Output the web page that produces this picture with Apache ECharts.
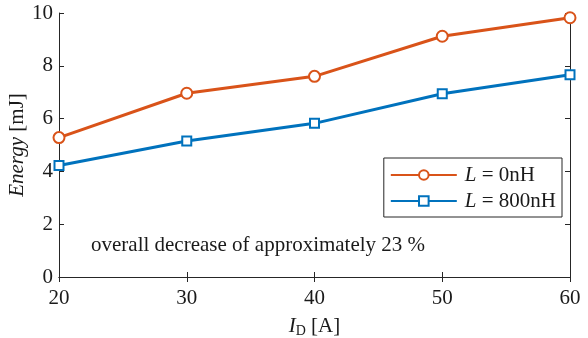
<!DOCTYPE html>
<html><head><meta charset="utf-8">
<script src="https://cdn.jsdelivr.net/npm/echarts@6/dist/echarts.min.js"></script>
<style>html,body{margin:0;padding:0;background:#fff}#c{width:588px;height:338px}</style>
</head><body><div id="c"></div>
<script>
const categories = [20, 30, 40, 50, 60];
const energy0nH = [5.28, 6.96, 7.6, 9.12, 9.82];
const energy800nH = [4.22, 5.15, 5.82, 6.94, 7.66];
const seriesNames = ['L = 0nH', 'L = 800nH'];
const annotation = 'overall decrease of approximately 23 %';

const F = '"Liberation Serif", "Times New Roman", serif';
const FS = 21;
const axisCol = '#262626';
const txtCol = '#1a1a1a';
const chart = echarts.init(document.getElementById('c'));
chart.setOption({
  animation: false,
  grid: {left: 59, top: 13, right: 18, bottom: 61, containLabel: false, outerBoundsMode: 'none'},
  textStyle: {fontFamily: F},
  legend: {
    right: 26, top: 158, orient: 'vertical',
    backgroundColor: '#fff', borderColor: axisCol, borderWidth: 1,
    padding: [6, 6, 5, 6], itemGap: 4, itemWidth: 66, itemHeight: 12,
    formatter: n => '{i|L} = ' + n.split('= ')[1],
    textStyle: {fontFamily: F, fontSize: FS, lineHeight: 22, color: txtCol, padding: [0, 0, 0, 3],
      rich: {i: {fontFamily: F, fontSize: FS, lineHeight: 22, fontStyle: 'italic', color: txtCol}}},
    data: seriesNames
  },
  xAxis: [{
    type: 'value', min: 20, max: 60, interval: 10,
    axisLine: {onZero: false, lineStyle: {color: axisCol, width: 1}},
    axisTick: {inside: true, length: 5, lineStyle: {color: axisCol}},
    axisLabel: {color: txtCol, fontSize: FS, fontFamily: F, margin: 11},
    splitLine: {show: false},
    name: '{i|I}{s|D} [A]', nameLocation: 'middle', nameGap: 38, nameMoveOverlap: false,
    nameTextStyle: {color: txtCol, fontSize: FS, fontFamily: F,
      rich: {i: {fontStyle: 'italic', fontSize: FS, fontFamily: F, color: txtCol},
             s: {fontSize: 14, fontFamily: F, color: txtCol, verticalAlign: 'bottom', padding: [9,0,0,0]}}}
  }, {
    type: 'value', position: 'top', min: 20, max: 60, interval: 10,
    axisLine: {lineStyle: {color: axisCol, width: 1}},
    axisTick: {inside: true, length: 5, lineStyle: {color: axisCol}},
    axisLabel: {show: false}, splitLine: {show: false}
  }],
  yAxis: [{
    type: 'value', min: 0, max: 10, interval: 2,
    axisLine: {show: true, lineStyle: {color: axisCol, width: 1}},
    axisTick: {show: true, inside: true, length: 5, lineStyle: {color: axisCol}},
    axisLabel: {color: txtCol, fontSize: FS, fontFamily: F, margin: 6},
    splitLine: {show: false},
    name: '{i|Energy} [mJ]', nameLocation: 'middle', nameGap: 31, nameRotate: 90, nameMoveOverlap: false,
    nameTextStyle: {color: txtCol, fontSize: FS, fontFamily: F,
      rich: {i: {fontStyle: 'italic', fontSize: FS, fontFamily: F, color: txtCol}}}
  }, {
    type: 'value', position: 'right', min: 0, max: 10, interval: 2,
    axisLine: {show: true, lineStyle: {color: axisCol, width: 1}},
    axisTick: {show: true, inside: true, length: 5, lineStyle: {color: axisCol}},
    axisLabel: {show: false}, splitLine: {show: false}
  }],
  series: [{
    name: seriesNames[0], type: 'line', clip: false,
    data: categories.map((x, i) => [x, energy0nH[i]]),
    symbol: 'emptyCircle', symbolSize: 11,
    lineStyle: {color: '#D95319', width: 3},
    itemStyle: {color: '#D95319', borderColor: '#D95319', borderWidth: 2.5},
    z: 3
  }, {
    name: seriesNames[1], type: 'line', clip: false,
    data: categories.map((x, i) => [x, energy800nH[i]]),
    symbol: 'emptyRect', symbolSize: 9,
    lineStyle: {color: '#0072BD', width: 3},
    itemStyle: {color: '#0072BD', borderColor: '#0072BD', borderWidth: 2.5},
    z: 3
  }],
  graphic: [{
    type: 'text', left: 91, top: 235,
    style: {text: annotation, font: FS + 'px "Liberation Serif", serif', fill: txtCol}
  }]
});
</script></body></html>
